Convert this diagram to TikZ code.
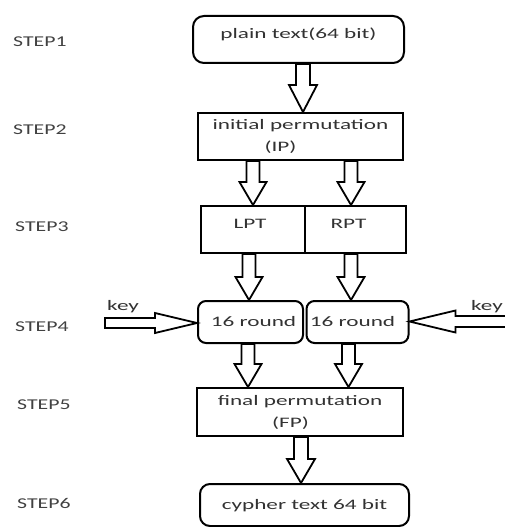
\documentclass[tikz,border=0pt]{standalone}
\usepackage{fontspec}
\setmainfont{Carlito}[FakeStretch=1.6]
\newfontfamily\stepfont{Carlito}[FakeStretch=1.45]
\usetikzlibrary{calc}
\definecolor{txt}{RGB}{50,50,50}
\definecolor{steptxt}{RGB}{65,65,65}
\newcommand\blkpath[3]{%
  \coordinate (bH) at ($(bB)!#3!(bA)$);
  \draw[blk] ($(bA)!#1!90:(bB)$) -- ($(bH)!#1!90:(bB)$) -- ($(bH)!#2!90:(bB)$) -- (bB)
    -- ($(bH)!#2!-90:(bB)$) -- ($(bH)!#1!-90:(bB)$) -- ($(bA)!#1!-90:(bB)$) -- cycle;}
% vertical block arrow: x reference, from, to, shaft half, head half, head length
\newcommand\vblk[6]{%
  \coordinate (bX) at #1; \coordinate (bF) at #2; \coordinate (bT) at #3;
  \coordinate (bA) at (bF -| bX); \coordinate (bB) at (bT -| bX);
  \blkpath{#4}{#5}{#6}}
% horizontal block arrow: y reference, from, to, shaft half, head half, head length
\newcommand\hblk[6]{%
  \coordinate (bY) at #1; \coordinate (bF) at #2; \coordinate (bT) at #3;
  \coordinate (bA) at (bF |- bY); \coordinate (bB) at (bT |- bY);
  \blkpath{#4}{#5}{#6}}
\begin{document}
\begin{tikzpicture}[x=1pt,y=-1pt,
  font=\fontsize{14.5}{22}\selectfont,
  box/.style={draw, line width=2pt, inner sep=0pt, text=txt, align=center},
  rbox/.style={box, rounded corners=10pt},
  steplbl/.style={anchor=west, text=steptxt, inner sep=0pt, font=\stepfont\fontsize{15}{17}\selectfont},
  keylbl/.style={anchor=base west, text=txt, inner sep=0pt},
  blk/.style={draw, fill=white, line width=1.8pt, line join=miter}]
\useasboundingbox (0,0) rectangle (505,527);

% step labels
\node[steplbl] (s1) at (13,42) {STEP1};
\node[steplbl] (s2) at (13,130) {STEP2};
\node[steplbl] (s3) at (15,227) {STEP3};
\node[steplbl] (s4) at (15,327) {STEP4};
\node[steplbl] (s5) at (17,405) {STEP5};
\node[steplbl] (s6) at (17,503) {STEP6};

% boxes
\node[rbox, rounded corners=11pt, anchor=north, minimum width=211pt, text height=22pt, text depth=25pt] (plain) at (298.5,15) {plain text(64 bit)};
\node[box, minimum width=205pt, minimum height=47pt] (ip) at (300.5,136.5) {initial permutation\\(IP)\hspace*{40pt}};
\node[box, anchor=north west, minimum width=104pt, text height=22pt, text depth=25pt] (lpt) at (200,205) {LPT\hspace*{6pt}};
\node[box, anchor=north west, minimum width=101pt, text height=22pt, text depth=25pt] (rpt) at (304,205) {RPT\hspace*{14pt}};
\node[rbox, rounded corners=8pt, anchor=north west, minimum width=105pt, text height=25pt, text depth=17pt] (rl) at (197,300) {\hspace*{6pt}16 round};
\node[rbox, rounded corners=8pt, anchor=north west, minimum width=102pt, text height=25pt, text depth=17pt] (rr) at (305.5,300) {16 round\hspace*{10pt}};
\node[box, minimum width=206pt, minimum height=48pt] (fp) at (300,412) {final permutation\\(FP)\hspace*{19pt}};
\node[rbox, anchor=north west, minimum width=209pt, text height=25pt, text depth=17pt] (cy) at (199,483) {cypher text 64 bit};

% key inputs
\coordinate (keyL) at (105,323);
\coordinate (keyR) at (508,321.5);
\node[keylbl] (k1) at (107,310) {key};
\node[keylbl, anchor=base east] (k2) at (503,310) {key};

% block arrows
\vblk{([xshift=4.5pt]plain.south)}{(plain.south)}{(ip.north)}{7pt}{14pt}{27pt}
\vblk{(lpt.north)}{(ip.south)}{(lpt.north)}{6.5pt}{13.5pt}{23pt}
\vblk{([xshift=-4.5pt]rpt.north)}{(ip.south)}{(rpt.north)}{6.5pt}{13.5pt}{23pt}
\vblk{([xshift=-4pt]lpt.south)}{(lpt.south)}{(rl.north)}{6.5pt}{13.5pt}{23pt}
\vblk{([xshift=-4.5pt]rpt.south)}{(rpt.south)}{(rr.north)}{6.5pt}{13.5pt}{23pt}
\vblk{([xshift=-2.5pt]rl.south)}{(rl.south)}{(fp.north)}{6.5pt}{13.5pt}{23pt}
\vblk{([xshift=-9pt]rr.south)}{(rr.south)}{(fp.north)}{6.5pt}{13.5pt}{23pt}
\vblk{([xshift=1pt]fp.south)}{(fp.south)}{(cy.north)}{7pt}{14pt}{24pt}
\hblk{(keyL)}{(keyL)}{(rl.west)}{5pt}{10pt}{42pt}
\hblk{(keyR)}{(keyR)}{(rr.east)}{5.5pt}{11pt}{46pt}
\end{tikzpicture}
\end{document}
